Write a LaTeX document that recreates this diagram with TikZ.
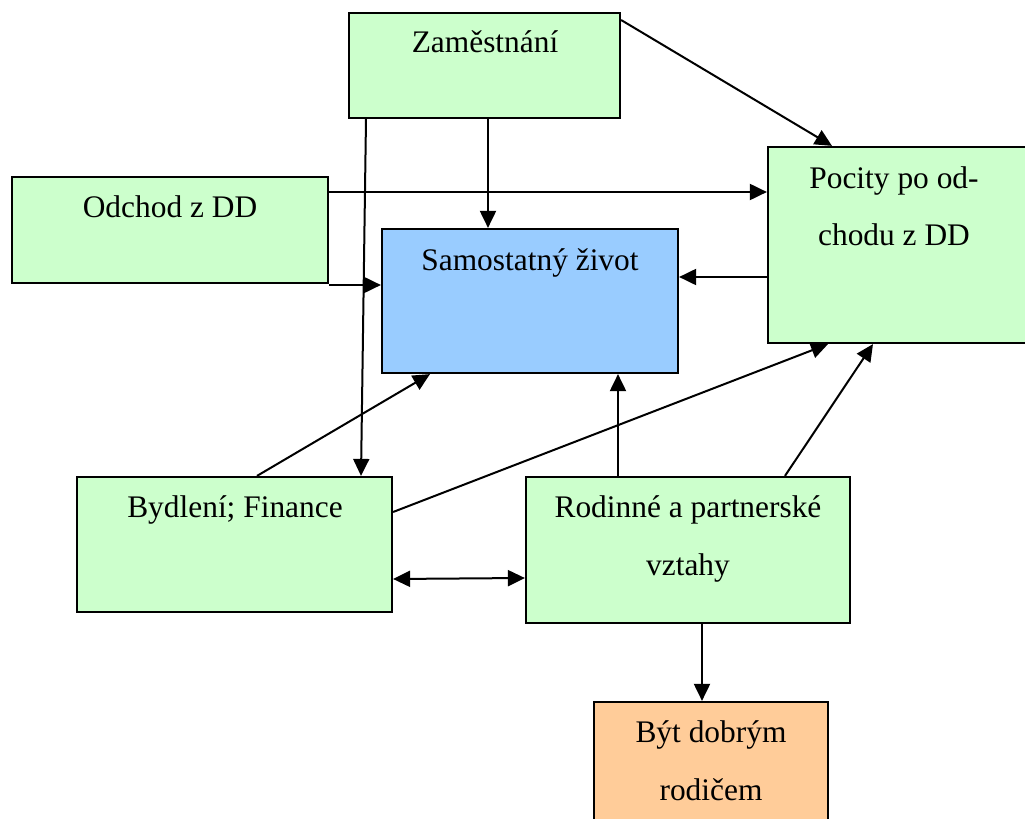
\documentclass[tikz,border=0pt]{standalone}
\usepackage{fontspec}
\setmainfont{Liberation Serif}
\usetikzlibrary{arrows.meta,fit,calc}
\definecolor{boxgreen}{HTML}{CCFFCC}
\definecolor{boxblue}{HTML}{99CCFF}
\definecolor{boxorange}{HTML}{FFCC99}
\begin{document}
\begin{tikzpicture}[x=0.5pt,y=-0.5pt,
  box/.style={draw=black, line width=1.1pt, inner sep=0pt, rectangle},
  greenbox/.style={box, fill=boxgreen},
  bluebox/.style={box, fill=boxblue},
  orangebox/.style={box, fill=boxorange},
  lbl/.style={anchor=base, font=\fontsize{15.7}{29}\selectfont, inner sep=0pt},
  conn/.style={line width=1pt, -{Triangle[length=8.5pt,width=8pt]}},
  biconn/.style={line width=1pt, {Triangle[length=8.5pt,width=8pt]}-{Triangle[length=8.5pt,width=8pt]}}
]
\useasboundingbox (0,0) rectangle (1025,819);
% boxes
\node[greenbox, fit={(349,13) (620,118)}] (zam) {};
\node[greenbox, fit={(12,177) (328,283)}] (odc) {};
\node[greenbox, fit={(768,147) (1045,343)}] (poc) {};
\node[bluebox, fit={(382,229) (678,373)}] (sam) {};
\node[greenbox, fit={(77,477) (392,612)}] (byd) {};
\node[greenbox, fit={(526,477) (850,623)}] (rod) {};
\node[orangebox, fit={(594,702) (828,850)}] (byt) {};
% labels
\node[lbl] (zamT) at (485,53) {Zaměstnání};
\node[lbl] (odcT) at (170,217) {Odchod z DD};
\node[lbl] (pocT1) at (894,188) {Pocity po od-};
\node[lbl] (pocT2) at (894,245) {chodu z DD};
\node[lbl] (samT) at (530,270) {Samostatný život};
\node[lbl] (bydT) at (235,517) {Bydlení; Finance};
\node[lbl] (rodT1) at (688,517) {Rodinné a partnerské};
\node[lbl] (rodT2) at (688,575) {vztahy};
\node[lbl] (bytT1) at (711,742) {Být dobrým};
\node[lbl] (bytT2) at (711,800) {rodičem};
% connectors
\draw[conn] (zam.east |- 0,20) -- (832,0 |- poc.north);
\draw[conn] (488,0 |- zam.south) -- (488,0 |- sam.north);
\draw[conn] (366,0 |- zam.south) -- (361,0 |- byd.north);
\draw[conn] (odc.east |- 0,192) -- (poc.west |- 0,192);
\draw[conn] (odc.east |- 0,285) -- (sam.west |- 0,285);
\draw[conn] (poc.west |- 0,277) -- (sam.east |- 0,277);
\draw[conn] (257,0 |- byd.north) -- (430,0 |- sam.south);
\draw[conn] (byd.east |- 0,512) -- (828,0 |- poc.south);
\draw[conn] (618,0 |- rod.north) -- (618,0 |- sam.south);
\draw[conn] (785,0 |- rod.north) -- (873,0 |- poc.south);
\draw[biconn] (byd.east |- 0,579) -- (rod.west |- 0,578);
\draw[conn] (702,0 |- rod.south) -- (702,0 |- byt.north);
\end{tikzpicture}
\end{document}
